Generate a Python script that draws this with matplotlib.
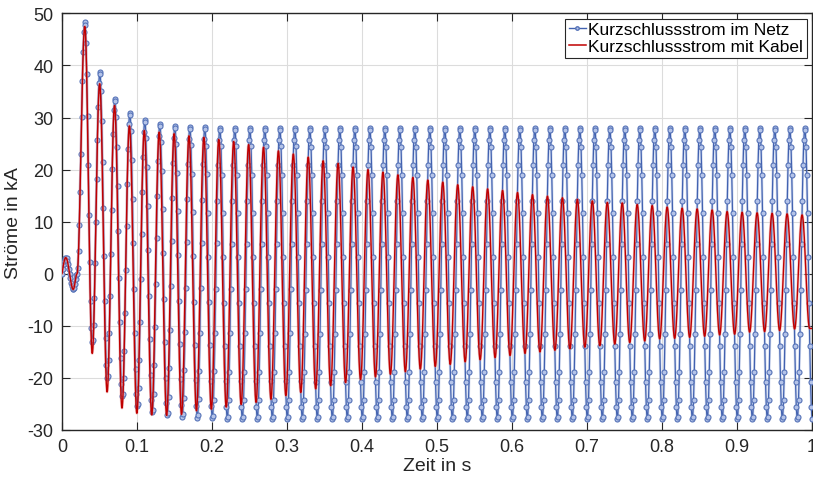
import numpy as np
import matplotlib.pyplot as plt

plt.rcParams['font.family'] = ['Liberation Sans', 'DejaVu Sans']
plt.rcParams['axes.unicode_minus'] = False

# Werte vor dem Kurzschluss (Laststrom), Extremwerte in kA
vor_t = [-0.005, 0.005, 0.015, 0.02]
vor_i = [-3.0, 3.1, -3.0, 0.0]

# Scheitelwerte je Periode (Maxima bei 0.03 + k*0.02 s, Minima 0.01 s spaeter)
netz_max = [48.4, 38.9, 33.8, 31.1, 29.7, 29.0, 28.6, 28.4, 28.3, 28.2,
            28.2, 28.2, 28.2, 28.2, 28.2, 28.1, 28.1, 28.1, 28.1, 28.1,
            28.1, 28.1, 28.1, 28.1, 28.1, 28.1, 28.1, 28.1, 28.1, 28.1,
            28.1, 28.1, 28.1, 28.1, 28.1, 28.1, 28.1, 28.1, 28.1, 28.1,
            28.1, 28.1, 28.1, 28.1, 28.1, 28.1, 28.1, 28.1, 28.1]
netz_min = [-13.2, -20.1, -23.7, -25.6, -26.7, -27.3, -27.6, -27.8, -27.9, -28.0,
            -28.0, -28.0, -28.0, -28.0, -28.0, -28.0, -28.0, -28.0, -28.0, -28.0,
            -28.0, -28.0, -28.0, -28.0, -28.0, -28.0, -28.0, -28.0, -28.0, -28.0,
            -28.0, -28.0, -28.0, -28.0, -28.0, -28.0, -28.0, -28.0, -28.0, -28.0,
            -28.0, -28.0, -28.0, -28.0, -28.0, -28.0, -28.0, -28.0, -28.0]
kabel_max = [47.5, 36.5, 32.3, 28.4, 27.5, 27.2, 26.9, 26.5, 26.2, 25.8,
             25.4, 24.8, 24.3, 23.6, 23.0, 22.4, 21.7, 21.2, 20.5, 20.0,
             19.5, 19.0, 18.5, 18.0, 17.6, 17.1, 16.7, 16.3, 16.0, 15.6,
             15.2, 14.9, 14.6, 14.3, 14.0, 13.7, 13.6, 13.3, 13.1, 12.8,
             12.6, 12.45, 12.25, 11.95, 11.8, 11.7, 11.6, 11.5, 11.3]
kabel_min = [-15.3, -22.7, -25.8, -26.8, -27.1, -27.2, -27.0, -26.3, -26.0, -25.6,
             -25.1, -24.7, -24.1, -23.4, -22.8, -22.1, -21.5, -20.9, -20.3, -19.8,
             -19.3, -18.8, -18.3, -17.8, -17.4, -16.9, -16.5, -16.1, -15.7, -15.3,
             -15.0, -14.7, -14.4, -14.1, -13.8, -13.5, -13.2, -12.9, -12.5, -12.4,
             -12.2, -12.0, -11.75, -11.6, -11.2, -11.1, -10.9, -10.6, -10.5]

# Voreilung des Kabelstroms gegenueber dem Netzstrom
vorlauf_t = [0.03, 0.1, 0.2, 0.35, 0.6, 0.8, 1.0]
vorlauf_ms = [0.0, 0.6, 1.3, 2.2, 3.0, 3.5, 3.6]

x_ticks = [0, 0.1, 0.2, 0.3, 0.4, 0.5, 0.6, 0.7, 0.8, 0.9, 1]
x_labels = ['0', '0.1', '0.2', '0.3', '0.4', '0.5', '0.6', '0.7', '0.8', '0.9', '1']
y_ticks = [-30, -20, -10, 0, 10, 20, 30, 40, 50]


def extrema(i_max, i_min, lead_ms=None):
    n = len(i_max)
    t_max = 0.03035 + 0.02 * np.arange(n)
    t_min = t_max + 0.01
    t_ext = np.empty(2 * n)
    i_ext = np.empty(2 * n)
    t_ext[0::2], t_ext[1::2] = t_max, t_min
    i_ext[0::2], i_ext[1::2] = i_max, i_min
    if lead_ms is not None:
        t_ext = t_ext - np.interp(t_ext, vorlauf_t, lead_ms) / 1000.0
    return np.r_[vor_t, t_ext], np.r_[vor_i, i_ext]


def halbwellen(t_ext, i_ext, t):
    # Kosinus-Halbwellen zwischen aufeinanderfolgenden Extremwerten
    idx = np.clip(np.searchsorted(t_ext, t, side='right') - 1, 0, len(t_ext) - 2)
    t0, t1 = t_ext[idx], t_ext[idx + 1]
    a, b = i_ext[idx], i_ext[idx + 1]
    u = np.clip((t - t0) / (t1 - t0), 0, 1)
    return a + (b - a) * (1 - np.cos(np.pi * u)) / 2


t_netz = np.arange(0, 1.0005, 0.001)
i_netz = halbwellen(*extrema(netz_max, netz_min), t_netz)
t_kabel = np.linspace(0, 1, 10001)
i_kabel = halbwellen(*extrema(kabel_max, kabel_min, vorlauf_ms), t_kabel)

fig = plt.figure(figsize=(8.13, 4.81), dpi=100)
ax = fig.add_axes([0.0763, 0.104, 0.9225, 0.866])

blau = '#4262B0'
rot = '#C00000'
ax.plot(t_netz, i_netz, color='#A8B9E2', linewidth=2.0, alpha=0.45, zorder=2)
ax.plot(t_netz, i_netz, color=blau, linewidth=0.9, marker='o', markersize=3.6,
        markerfacecolor='#B4C3E8', markeredgecolor='#5673B8', markeredgewidth=0.8, zorder=3)
ax.plot(t_kabel, i_kabel, color='#E68080', linewidth=2.0, alpha=0.4, zorder=4)
ax.plot(t_kabel, i_kabel, color=rot, linewidth=1.0, zorder=5)

ax.set_xlim(0, 1)
ax.set_ylim(-30, 50)
ax.set_xticks(x_ticks)
ax.set_xticklabels(x_labels)
ax.set_yticks(y_ticks)
ax.tick_params(direction='in', top=True, right=True, length=6, width=0.8,
               labelsize=13, colors='#262626', pad=6)
ax.grid(True, color='#DCDCDC', linewidth=0.8)
ax.set_axisbelow(True)
for s in ax.spines.values():
    s.set_linewidth(1.0)
    s.set_color('#262626')

ax.set_xlabel('Zeit in s', fontsize=14, color='#262626', labelpad=1)
ax.set_ylabel('Ströme in kA', fontsize=14, color='#262626', labelpad=4)

handles = [
    plt.Line2D([0], [0], color=blau, linewidth=1.0, marker='o', markersize=2.5,
               markerfacecolor='#B4C3E8', markeredgecolor='#5673B8', label='Kurzschlussstrom im Netz'),
    plt.Line2D([0], [0], color=rot, linewidth=1.1, label='Kurzschlussstrom mit Kabel'),
]
leg = ax.legend(handles=handles, loc='upper right', fontsize=12.5, frameon=True, fancybox=False,
                edgecolor='#262626', framealpha=1, handlelength=1.0, handletextpad=0.15,
                borderpad=0.2, labelspacing=0.1, borderaxespad=0.3)
leg.get_frame().set_linewidth(0.8)

fig.savefig('out.png', dpi=100)
